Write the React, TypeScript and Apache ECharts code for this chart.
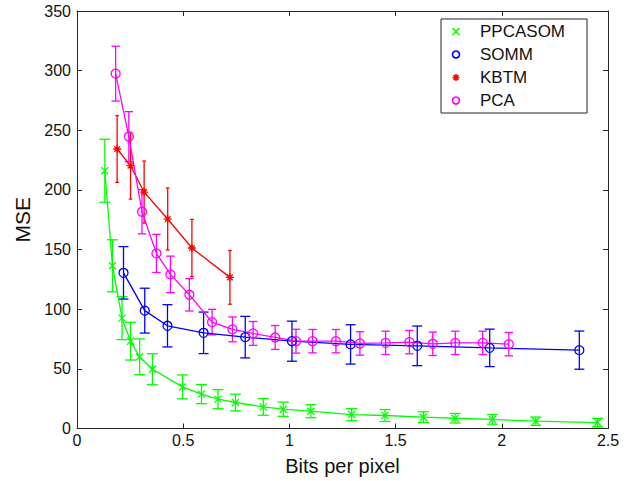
import React, { useEffect, useRef } from "react";
import * as echarts from "echarts";

// ---- data ----
const ppcaX = [0.131, 0.167, 0.212, 0.252, 0.295, 0.355, 0.497, 0.586, 0.664, 0.746, 0.877, 0.971, 1.101, 1.293, 1.45, 1.631, 1.78, 1.956, 2.16, 2.451];
const ppcaY = [216.1, 136.4, 92.5, 73.2, 60.1, 49.7, 34.9, 28.8, 24.6, 21.8, 18.1, 16.2, 14.5, 11.7, 10.9, 9.5, 8.6, 7.6, 6.1, 5.0];
const ppcaE = [26.4, 21.8, 18, 15.8, 15, 13, 10, 8, 8, 7, 7, 6, 5.5, 5, 5, 4.5, 4, 4, 3.5, 3.5];

const sommX = [0.219, 0.319, 0.426, 0.596, 0.792, 1.012, 1.288, 1.602, 1.943, 2.365];
const sommY = [130.5, 98.8, 86.1, 80.2, 76.6, 73.2, 70.5, 69.3, 67.6, 65.7];
const sommE = [22, 18.8, 17.7, 17.4, 17.4, 16.8, 16.5, 16.6, 15.7, 16];

const kbtmX = [0.189, 0.252, 0.316, 0.427, 0.541, 0.72];
const kbtmY = [234.3, 220.3, 198.2, 175.6, 151.3, 126.7];
const kbtmE = [28, 28, 26, 26, 24, 22.5];

const pcaX = [0.182, 0.244, 0.306, 0.374, 0.44, 0.529, 0.636, 0.732, 0.829, 0.933, 1.031, 1.109, 1.219, 1.332, 1.453, 1.565, 1.675, 1.781, 1.91, 2.033];
const pcaY = [297.5, 244.6, 181.7, 146.8, 129.2, 112.1, 89.2, 83.1, 79.7, 76.3, 73.2, 73.2, 73.2, 71.3, 71.8, 72.4, 71.0, 71.8, 71.8, 70.7];
const pcaE = [23, 21, 18.5, 16, 15.3, 13.6, 10.7, 10.4, 10, 10, 10, 9.8, 9.8, 9.8, 9.8, 9.8, 9.8, 9.8, 9.8, 9.8];

const xTicks = { min: 0, max: 2.5, interval: 0.5 };
const yTicks = { min: 0, max: 350, interval: 50 };
const xLabel = "Bits per pixel";
const yLabel = "MSE";

const FONT = "'Liberation Sans', Arial, Helvetica, sans-serif";
const AXIS = "#262626";

const X_PATH = "path://M0,0L10,10M0,10L10,0";
const STAR_PATH = "path://M5,0L5,10M0,5L10,5M1.46,1.46L8.54,8.54M1.46,8.54L8.54,1.46";

type S = { name: string; x: number[]; y: number[]; e: number[]; color: string; symbol: string; size: number; cap: number };

const seriesDefs: S[] = [
  { name: "PPCASOM", x: ppcaX, y: ppcaY, e: ppcaE, color: "#00ff00", symbol: X_PATH, size: 7, cap: 5.5 },
  { name: "SOMM", x: sommX, y: sommY, e: sommE, color: "#0000ff", symbol: "circle", size: 9, cap: 5 },
  { name: "KBTM", x: kbtmX, y: kbtmY, e: kbtmE, color: "#ff0000", symbol: STAR_PATH, size: 8, cap: 1.8 },
  { name: "PCA", x: pcaX, y: pcaY, e: pcaE, color: "#ff00ff", symbol: "circle", size: 9, cap: 4.2 },
];

export default function App() {
  const ref = useRef<HTMLDivElement>(null);
  useEffect(() => {
    if (!ref.current) return;
    const chart = echarts.init(ref.current, null, { renderer: "svg" });

    const series: any[] = [];
    seriesDefs.forEach((d) => {
      const cap = d.cap;
      series.push({
        name: d.name + " error",
        type: "custom",
        silent: true,
        data: d.x.map((x, i) => [x, d.y[i] - d.e[i], d.y[i] + d.e[i]]),
        renderItem: (params: any, api: any) => {
          const lo = api.coord([api.value(0), api.value(1)]);
          const hi = api.coord([api.value(0), api.value(2)]);
          const st = { stroke: d.color, lineWidth: 1.3, fill: "none" };
          return {
            type: "group",
            children: [
              { type: "line", shape: { x1: lo[0], y1: lo[1], x2: hi[0], y2: hi[1] }, style: st },
              { type: "line", shape: { x1: lo[0] - cap, y1: lo[1], x2: lo[0] + cap, y2: lo[1] }, style: st },
              { type: "line", shape: { x1: hi[0] - cap, y1: hi[1], x2: hi[0] + cap, y2: hi[1] }, style: st },
            ],
          };
        },
      });
      series.push({
        name: d.name,
        type: "line",
        data: d.x.map((x, i) => [x, d.y[i]]),
        symbol: d.symbol,
        symbolSize: d.size,
        showSymbol: true,
        lineStyle: { color: d.color, width: 1.3 },
        itemStyle: { color: "none", borderColor: d.color, borderWidth: 1.3 },
        emphasis: { disabled: true },
      });
    });

    const axisCommon = {
      type: "value" as const,
      splitLine: { show: false },
      axisLine: { show: true, onZero: false, lineStyle: { color: AXIS, width: 1 } },
      axisTick: { show: true, inside: true, length: 5, lineStyle: { color: AXIS } },
    };

    chart.setOption({
      animation: false,
      backgroundColor: "#ffffff",
      textStyle: { fontFamily: FONT },
      grid: { left: 77, right: 23, top: 11, bottom: 52.5, containLabel: false },
      xAxis: [
        {
          ...axisCommon,
          ...xTicks,
          name: xLabel,
          nameLocation: "middle",
          nameGap: 27,
          nameTextStyle: { fontSize: 20, color: "#111", fontFamily: FONT },
          axisLabel: {
            fontSize: 16,
            color: "#111",
            margin: 4,
            fontFamily: FONT,
            formatter: (v: number) => String(v),
          },
        },
        { ...axisCommon, ...xTicks, position: "top", axisLabel: { show: false } },
      ],
      yAxis: [
        {
          ...axisCommon,
          ...yTicks,
          name: yLabel,
          nameLocation: "middle",
          nameGap: 41,
          nameRotate: 90,
          nameTextStyle: { fontSize: 21, color: "#111", fontFamily: FONT },
          axisLabel: { fontSize: 16, color: "#111", margin: 6, fontFamily: FONT },
        },
        { ...axisCommon, ...yTicks, position: "right", axisLabel: { show: false } },
      ],
      legend: {
        orient: "vertical",
        left: 441,
        top: 19,
        itemWidth: 38,
        itemHeight: 7,
        itemGap: 6,
        padding: [4, 22, 4, 9],
        borderColor: AXIS,
        borderWidth: 1,
        backgroundColor: "#ffffff",
        selectedMode: false,
        textStyle: { fontSize: 17, color: "#111", fontFamily: FONT, lineHeight: 17 },
        data: seriesDefs.map((d) => ({
          name: d.name,
          icon: d.symbol === "circle" ? "circle" : d.symbol,
          itemStyle: { color: "none", borderColor: d.color, borderWidth: 1.6 },
        })),
      },
      series,
    });

    return () => chart.dispose();
  }, []);

  return (
    <div
      ref={ref}
      style={{ position: "fixed", left: 0, top: 0, width: 631, height: 481, background: "#fff" }}
    />
  );
}
